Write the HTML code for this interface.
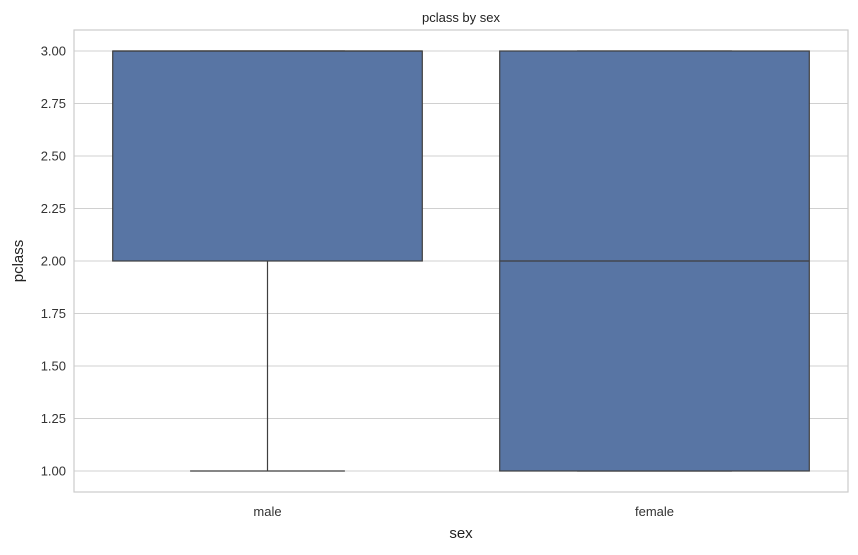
<!DOCTYPE html>
<html><head><meta charset="utf-8"><style>
body{margin:0;background:#fff;font-family:"Liberation Sans","DejaVu Sans",sans-serif;}
</style></head><body>
<svg id="chart" width="858" height="550" xmlns="http://www.w3.org/2000/svg"></svg>
<script>
const categories = ["male","female"];
const q1 = [2,1];
const median = [3,2];
const q3 = [3,3];
const whiskerLow = [1,1];
const whiskerHigh = [3,3];
const yTicks = [1.00,1.25,1.50,1.75,2.00,2.25,2.50,2.75,3.00];

const svg = document.getElementById('chart');
const NS = "http://www.w3.org/2000/svg";
const L=74,R=848,T=30,B=492;
const y = v => 471 - (v-1)*210;
const bw = (R-L)/categories.length;
const xc = i => L + bw*(i+0.5);
function mk(tag, attrs, parent){const e=document.createElementNS(NS,tag);for(const k in attrs)e.setAttribute(k,attrs[k]);(parent||svg).appendChild(e);return e;}

const grid = mk('g',{});


yTicks.forEach(t=>{
  const l=mk('line',{x1:L,x2:R,y1:y(t),y2:y(t),stroke:'#d0d0d0','stroke-width':1},grid);
  
  
  const tx=mk('text',{x:L-8,y:y(t)+4.5,'text-anchor':'end','font-size':13,fill:'#333'});
  tx.textContent=t.toFixed(2);
  
  
});
const frame=mk('rect',{x:L,y:T,width:R-L,height:B-T,fill:'none',stroke:'#cccccc','stroke-width':1.2});



categories.forEach((c,i)=>{
  const g=mk('g',{});
  
  
  const w=bw*0.8, cx=xc(i), cap=w/2;
  const stroke='#3f3f3f';
  mk('line',{x1:cx,x2:cx,y1:y(q1[i]),y2:y(whiskerLow[i]),stroke,'stroke-width':1.2},g);
  mk('line',{x1:cx,x2:cx,y1:y(q3[i]),y2:y(whiskerHigh[i]),stroke,'stroke-width':1.2},g);
  mk('line',{x1:cx-cap/2,x2:cx+cap/2,y1:y(whiskerLow[i]),y2:y(whiskerLow[i]),stroke,'stroke-width':1.2},g);
  mk('line',{x1:cx-cap/2,x2:cx+cap/2,y1:y(whiskerHigh[i]),y2:y(whiskerHigh[i]),stroke,'stroke-width':1.2},g);
  mk('rect',{x:cx-w/2,y:y(q3[i]),width:w,height:y(q1[i])-y(q3[i]),fill:'#5875a4',stroke,'stroke-width':1.2},g);
  mk('line',{x1:cx-w/2,x2:cx+w/2,y1:y(median[i]),y2:y(median[i]),stroke,'stroke-width':1.2},g);
  const tx=mk('text',{x:cx,y:B+24,'text-anchor':'middle','font-size':13,fill:'#333'});
  tx.textContent=c;
  
  
});
const tt=mk('text',{x:(L+R)/2,y:22,'text-anchor':'middle','font-size':13,fill:'#222'});tt.textContent='pclass by sex';


const xt=mk('text',{x:(L+R)/2,y:538,'text-anchor':'middle','font-size':15,fill:'#222'});xt.textContent='sex';


const yt=mk('text',{x:23,y:(T+B)/2,'text-anchor':'middle','font-size':15,fill:'#222',transform:`rotate(-90 23 ${(T+B)/2})`});yt.textContent='pclass';


</script>
</body></html>
